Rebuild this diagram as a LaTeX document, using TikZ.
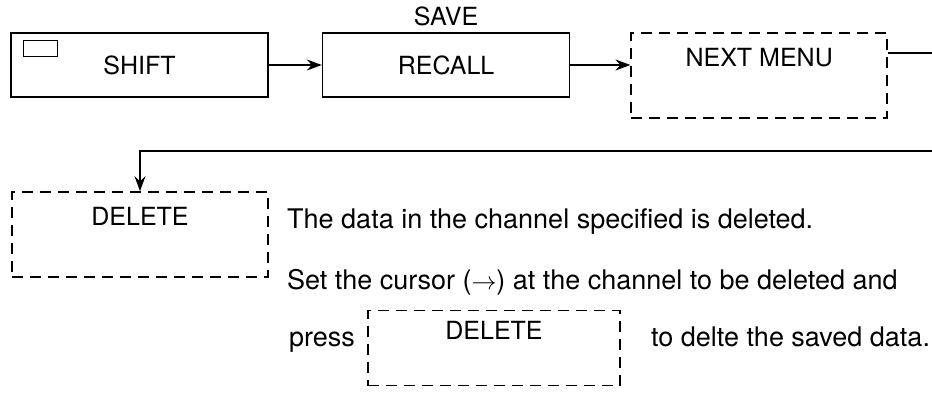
\documentclass[tikz,border=0pt]{standalone}
\usepackage{fontspec}
\setmainfont{TeX Gyre Heros}
\usetikzlibrary{arrows.meta, positioning, calc}
\newcommand{\kbfont}{\fontsize{25}{30}\selectfont}
\newcommand{\kbtextfont}{\fontsize{27}{32}\selectfont}
\tikzset{
  kb/key/.style={rectangle, draw=black, fill=white,
    minimum width=257pt, minimum height=64pt,
    font=\kbfont, line width=1.6pt, inner sep=0pt},
  kb/menu/.style={rectangle, draw=black, dash pattern=on 11pt off 7pt,
    minimum width=256pt, minimum height=85pt,
    text height=18pt, text depth=36pt,
    font=\kbfont, line width=1.6pt, inner sep=0pt},
  kb/arr/.style={-{Stealth[length=15pt,width=11pt,inset=5pt]},
    line width=1.4pt},
  kb/lbl/.style={font=\kbfont, inner sep=0pt},
  kb/txt/.style={font=\kbtextfont, inner sep=0pt, anchor=base west}
}
\begin{document}
\begin{tikzpicture}[x=1pt, y=-1pt]
  \useasboundingbox (0,0) rectangle (932,393);
  % top row of keys
  \node[kb/key] (shift) at (139.5,65) {SHIFT};
  \draw[line width=1.2pt] ($(shift.north west)+(13,8)$) rectangle ++(34,16);
  \node[kb/key, right=53pt of shift, minimum width=247pt] (recall) {RECALL};
  \node[kb/lbl, above=6pt of recall] (save) {SAVE};
  \node[kb/menu, right=60pt of recall.north east, anchor=north west] (next)
        {NEXT MENU};

  \draw[kb/arr] (shift) -- (recall);
  \draw[kb/arr] (recall.east) -- (recall.east -| next.west);

  % wrap to second row
  \coordinate (edgeA) at (932,53);
  \coordinate (edgeB) at (932,151);
  \draw[line width=1.4pt] (next.east |- edgeA) -- (edgeA);

  \node[kb/menu] (del) at (140,234.5) {DELETE};
  \draw[kb/arr] (edgeB) -| (del.north);

  % explanation
  \node[kb/txt] (t1) at (287,228) {The data in the channel specified is deleted.};
  \node[kb/txt] (t2) at (287,289) {Set the cursor ($\rightarrow$) at the channel to be deleted and};
  \node[kb/txt] (t3) at (289,346) {press};
  \node[kb/menu, minimum width=252pt, minimum height=75pt] (del2) at (494,348)
        {DELETE};
  \node[kb/txt] (t4) at (651,346) {to delte the saved data.};
\end{tikzpicture}
\end{document}
